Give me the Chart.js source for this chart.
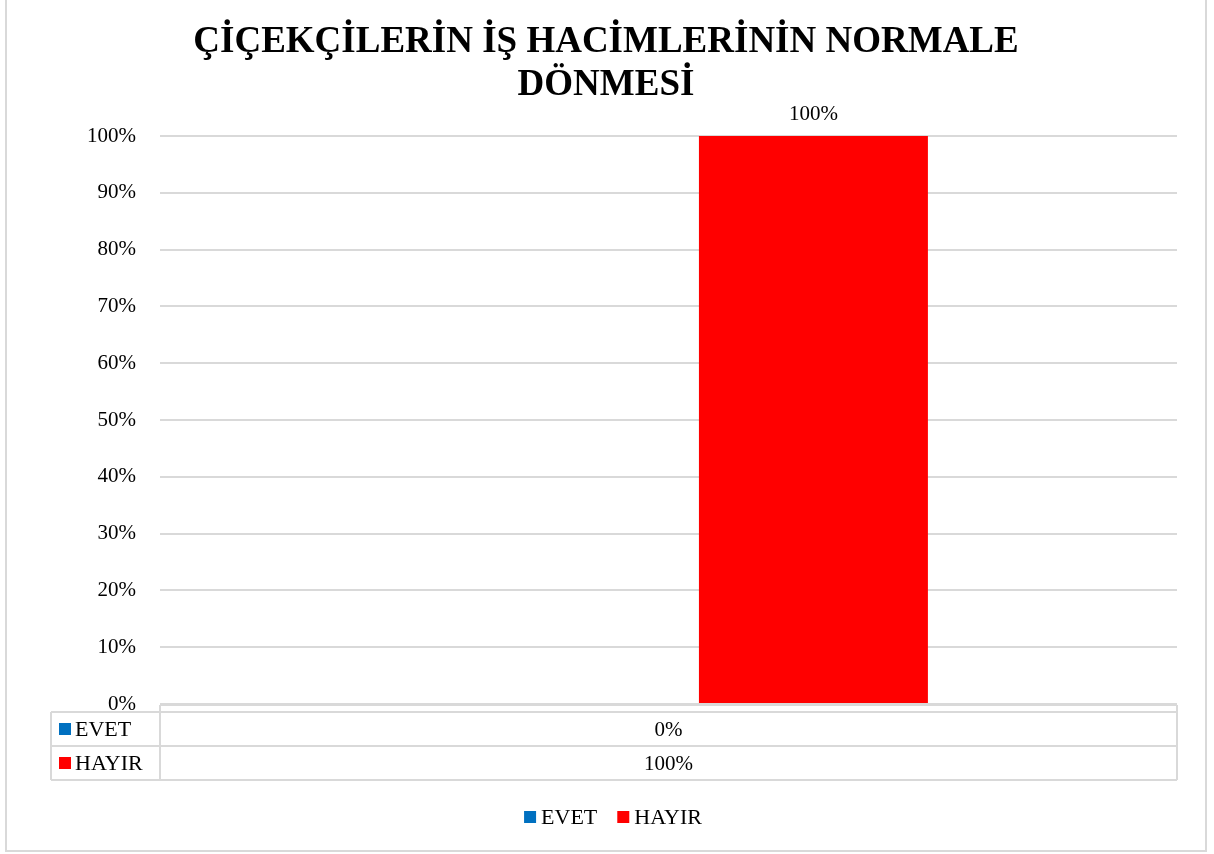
<!DOCTYPE html>
<html>
<head>
<meta charset="utf-8">
<script src="https://cdn.jsdelivr.net/npm/chart.js@4.4.1/dist/chart.umd.min.js"></script>
<style>
  html, body { margin: 0; padding: 0; background: #fff; }
  #wrap { width: 1214px; height: 854px; }
</style>
</head>
<body>
<div id="wrap"><canvas id="chart" width="1214" height="854"></canvas></div>
<script>
const categories = [""];
const seriesNames = ["EVET", "HAYIR"];
const evetValues = [0];
const hayirValues = [1];
const seriesColors = ["#0070c0", "#ff0000"];
const titleLines = ["ÇİÇEKÇİLERİN İŞ HACİMLERİNİN NORMALE", "DÖNMESİ"];

const FONT = "'Liberation Serif', 'Times New Roman', serif";
const GRID = "#d9d9d9";
const pct = v => Math.round(v * 100) + "%";

// title, data labels, data table, legend and frame
const extras = {
  id: "extras",
  afterDatasetsDraw(chart) {
    const ctx = chart.ctx;
    const area = chart.chartArea;
    const x = chart.scales.x;
    ctx.save();

    ctx.font = "bold 37px " + FONT;
    ctx.fillStyle = "#000";
    ctx.textAlign = "center";
    ctx.textBaseline = "alphabetic";
    titleLines.forEach((t, i) => ctx.fillText(t, 606, 52 + i * 43));

    ctx.font = "21px " + FONT;
    ctx.textBaseline = "middle";
    chart.data.datasets.forEach((ds, i) => {
      chart.getDatasetMeta(i).data.forEach((bar, j) => {
        if (ds.data[j] > 0) ctx.fillText(pct(ds.data[j]), bar.x, bar.y - 22);
      });
    });

    // data table
    const rowTop = area.bottom + 8, rowH = 34, headLeft = 51;
    ctx.strokeStyle = GRID;
    ctx.lineWidth = 2;
    ctx.beginPath();
    ctx.moveTo(area.left, area.bottom + 1); ctx.lineTo(area.right, area.bottom + 1);
    for (let r = 0; r <= seriesNames.length; r++) {
      ctx.moveTo(headLeft, rowTop + r * rowH); ctx.lineTo(area.right, rowTop + r * rowH);
    }
    ctx.moveTo(headLeft, rowTop); ctx.lineTo(headLeft, rowTop + seriesNames.length * rowH);
    ctx.moveTo(area.left, area.bottom + 1); ctx.lineTo(area.left, rowTop + seriesNames.length * rowH);
    ctx.moveTo(area.right, area.bottom + 1); ctx.lineTo(area.right, rowTop + seriesNames.length * rowH);
    ctx.stroke();

    chart.data.datasets.forEach((ds, i) => {
      const cy = rowTop + i * rowH + rowH / 2;
      ctx.fillStyle = ds.backgroundColor;
      ctx.fillRect(headLeft + 8, cy - 6, 12, 12);
      ctx.fillStyle = "#000";
      ctx.textAlign = "left";
      ctx.font = "22px " + FONT;
      ctx.fillText(ds.label, headLeft + 24, cy + 1);
      ctx.textAlign = "center";
      ctx.font = "21px " + FONT;
      ds.data.forEach((v, j) => ctx.fillText(pct(v), x.getPixelForValue(j), cy + 1));
    });

    // legend
    ctx.font = "22px " + FONT;
    const ly = 817;
    const widths = seriesNames.map(n => ctx.measureText(n).width);
    const total = widths.reduce((a, b) => a + b, 0) + seriesNames.length * 17 + 20;
    let lx = chart.width / 2 - total / 2 + 6;
    seriesNames.forEach((n, i) => {
      ctx.fillStyle = seriesColors[i];
      ctx.fillRect(lx, ly - 6, 12, 12);
      ctx.fillStyle = "#000";
      ctx.textAlign = "left";
      ctx.fillText(n, lx + 17, ly + 1);
      lx += 17 + widths[i] + 20;
    });

    // frame
    ctx.strokeStyle = GRID;
    ctx.lineWidth = 2;
    ctx.strokeRect(6, -2, 1200, 853);
    ctx.restore();
  }
};

new Chart(document.getElementById("chart"), {
  type: "bar",
  data: {
    labels: categories,
    datasets: [
      { label: seriesNames[0], data: evetValues, backgroundColor: seriesColors[0] },
      { label: seriesNames[1], data: hayirValues, backgroundColor: seriesColors[1] }
    ]
  },
  options: {
    responsive: false,
    animation: false,
    categoryPercentage: 0.57,
    barPercentage: 0.79,
    layout: { padding: { left: 6, right: 37, top: 136, bottom: 142 } },
    plugins: {
      legend: { display: false },
      tooltip: { enabled: false },
      title: { display: false }
    },
    scales: {
      x: {
        ticks: { display: false },
        grid: { display: false },
        border: { display: false }
      },
      y: {
        min: 0,
        max: 1,
        afterFit: s => { s.width = 154; },
        ticks: {
          stepSize: 0.1,
          padding: 24,
          color: "#000",
          font: { family: FONT, size: 21 },
          callback: v => pct(v)
        },
        grid: { color: GRID, lineWidth: 2, drawTicks: false },
        border: { display: false }
      }
    }
  },
  plugins: [extras]
});
</script>
</body>
</html>
